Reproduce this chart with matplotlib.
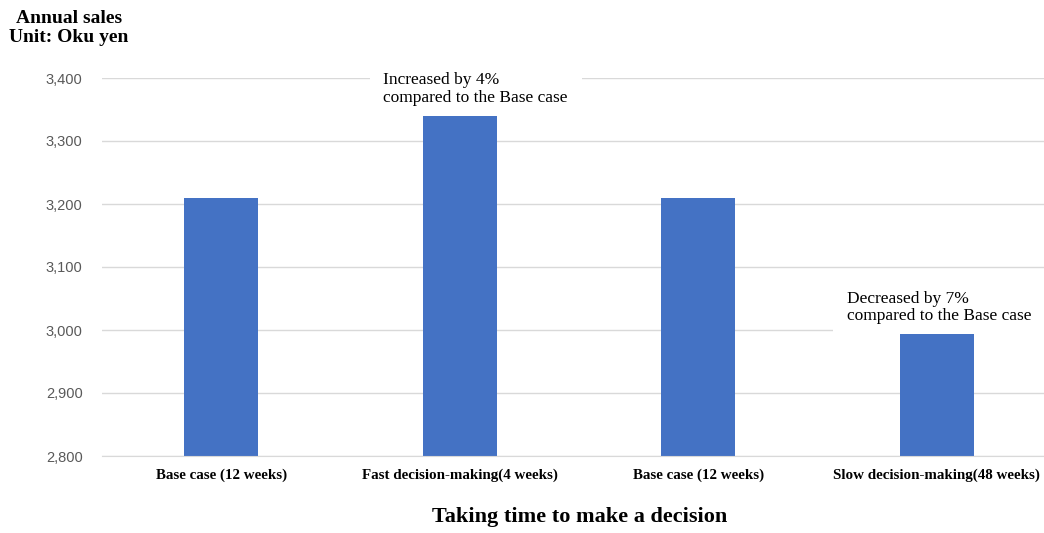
import matplotlib.pyplot as plt

# 데이터
categories = ['Base case (12 weeks)', 'Fast decision-making(4 weeks)',
              'Base case (12 weeks)', 'Slow decision-making(48 weeks)']
sales = [3209, 3340, 3209, 2993]
y_ticks = [2800, 2900, 3000, 3100, 3200, 3300, 3400]
notes = {1: 'Increased by 4%\ncompared to the Base case',
         3: 'Decreased by 7%\ncompared to the Base case'}

serif = ['Liberation Serif', 'DejaVu Serif']

fig = plt.figure(figsize=(10.44, 5.33), dpi=100)
ax = fig.add_axes([102 / 1044, 77 / 533, 954 / 1044, 378 / 533])

x = range(len(categories))
ax.bar(x, sales, width=0.31, color='#4472C4', zorder=2)

ax.set_xlim(-0.5, len(categories) - 0.5)
ax.set_ylim(2800, 3400)
ax.set_yticks(y_ticks)
ax.set_yticklabels([f'{v:,}' for v in y_ticks], color='#595959', fontsize=10.5,
                   family=['Liberation Sans', 'DejaVu Sans'])
ax.set_xticks(list(x))
ax.set_xticklabels(categories, fontsize=10.8, fontweight='bold', family=serif)
ax.tick_params(axis='y', length=0, pad=14)
ax.tick_params(axis='x', length=0, pad=9)

ax.grid(axis='y', color='#d9d9d9', linewidth=1)
ax.set_axisbelow(True)
for side in ['top', 'right', 'left']:
    ax.spines[side].set_visible(False)
ax.spines['bottom'].set_color('#d9d9d9')

# 주석 (흰 배경으로 격자선만 가리고 막대는 가리지 않음)
offsets = {1: -0.32, 3: -0.375}
for i, txt in notes.items():
    ax.text(i + offsets[i], sales[i] + 16, txt, ha='left', va='bottom',
            fontsize=12.5, family=serif, linespacing=1.15, zorder=1,
            bbox=dict(facecolor='white', edgecolor='none', pad=10))

fig.text(69 / 1044, 1 - 28 / 533, 'Annual sales\nUnit: Oku yen', ha='center',
         va='center', fontsize=14, fontweight='bold', family=serif,
         linespacing=1.2)
fig.text(580 / 1044, 1 - 517 / 533, 'Taking time to make a decision',
         ha='center', va='center', fontsize=16, fontweight='bold', family=serif)

fig.savefig('out.png', dpi=100)
